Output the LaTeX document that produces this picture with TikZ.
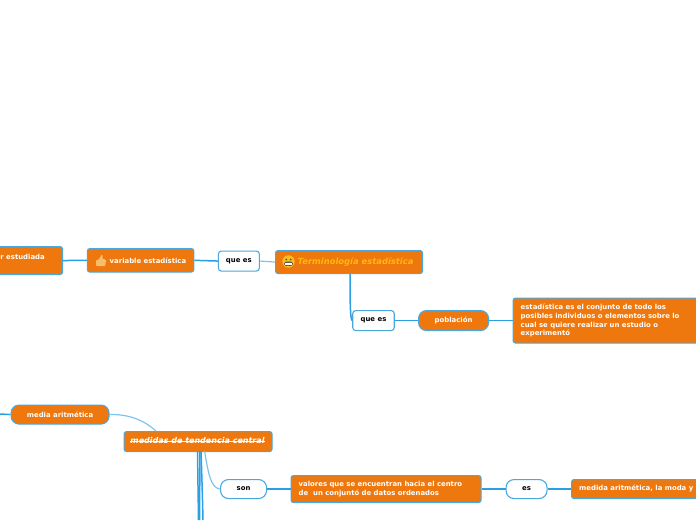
\documentclass[tikz,border=0pt]{standalone}
\usepackage{fontspec}
\setmainfont{DejaVu Sans}
\definecolor{nodeorange}{HTML}{EE780D}
\definecolor{linkblue}{HTML}{2A9FE4}
\definecolor{edgeblue}{HTML}{4AA8E0}
\definecolor{paleblue}{HTML}{7CC4F0}
\definecolor{thumbcol}{HTML}{F6BE6A}
\definecolor{facecol}{HTML}{F8BE1E}
\definecolor{titlecol}{HTML}{FFB70F}
\newsavebox{\strikebox}
\newcommand{\strikeout}[1]{\sbox{\strikebox}{#1}\usebox{\strikebox}\llap{\rule[0.28em]{\wd\strikebox}{0.55pt}}}
\tikzset{
  x=1pt,y=-1pt,
  base/.style={draw=edgeblue,line width=1.1pt,inner sep=0pt,font=\fontsize{6.9}{9}\selectfont\bfseries},
  obox/.style={base,fill=nodeorange,text=white,rounded corners=2.5pt},
  opill/.style={base,fill=nodeorange,text=white,rounded corners=8pt},
  wbox/.style={base,fill=white,text=black,rounded corners=3pt},
  wpill/.style={base,fill=white,text=black,rounded corners=8pt},
  link/.style={draw=linkblue,line width=1.5pt},
  thinlink/.style={draw=paleblue,line width=1.2pt},
  lab/.style={inner sep=0pt,align=left,font=\fontsize{6.9}{9}\selectfont\bfseries},
}
\begin{document}
\begin{tikzpicture}
\useasboundingbox (0,0) rectangle (696,520);
\clip (0,0) rectangle (696,520);
\coordinate (leftA) at (0,414);
\coordinate (downA) at (198.5,520);
\coordinate (downB) at (199.5,520);
\coordinate (downC) at (203,520);
\node[obox,minimum width=82pt,minimum height=28pt,anchor=north west] (sub) at (-20,246) {};
\node[obox,minimum width=106.5pt,minimum height=23.5pt,anchor=north west] (var) at (86.8,248) {};
\node[wbox,minimum width=41pt,minimum height=20pt,anchor=north west] (q1) at (217.8,250.5) {\raisebox{-0.7pt}{que es}};
\node[obox,minimum width=147pt,minimum height=23pt,anchor=north west] (term) at (275,250) {};
\node[wbox,minimum width=41.5pt,minimum height=20pt,anchor=north west] (q2) at (352.2,310) {\raisebox{-0.5pt}{que es}};
\node[opill,minimum width=70pt,minimum height=20pt,anchor=north west] (pob) at (418,310) {población};
\node[obox,minimum width=210pt,minimum height=45pt,anchor=north west] (est) at (512.5,297.5) {};
\node[opill,minimum width=98pt,minimum height=19pt,anchor=north west] (med) at (10.5,404.5) {media aritmética};
\node[obox,minimum width=148pt,minimum height=20pt,anchor=north west] (cen) at (123.5,431) {};
\node[wpill,minimum width=46pt,minimum height=19pt,anchor=north west] (son) at (220,479) {son};
\node[obox,minimum width=190pt,minimum height=27pt,anchor=north west] (val) at (290.5,475) {};
\node[wpill,minimum width=41pt,minimum height=19pt,anchor=north west] (es) at (505.5,479) {es};
\node[obox,minimum width=160pt,minimum height=19pt,anchor=north west] (mod) at (571,479) {};
\path[link] (sub.east) -- (var.west);
\path[link] (var.east) -- (q1.west);
\path[thinlink] (q1.east) -- (term.west);
\path[link] (term.south) ++(1,0) .. controls (350,295) and (350,320) .. (q2.west);
\path[link] (q2.east) -- (pob.west);
\path[link] (pob.east) -- (est.west);
\path[link] (leftA) -- (med.west);
\path[thinlink] (med.east) .. controls (130,414) and (145,421) .. (156,431);
\path[link] (197.5,451) -- (downA);
\path[link] (200,451) -- (downB);
\path[link] (201,451) .. controls (202,480) and (202.5,500) .. (downC);
\path[thinlink] (204.5,451) .. controls (208,470) and (210,488) .. (son.west);
\path[link] (son.east) -- (val.west);
\path[link] (val.east) -- (es.west);
\path[link] (es.east) -- (mod.west);
\node[lab,text=white,anchor=east] (subl) at (45,256.5) {r estudiada};
\node[lab,text=white,anchor=west] (varl) at (109.5,260.5) {variable estadística};
\fill[thumbcol,rounded corners=0.8pt] (96,260) -- (98.2,260) -- (100.5,257) -- (101.2,254.5) -- (102.7,255) -- (102.5,259) -- (106,259.5) -- (105.3,266) -- (96,266) -- cycle;
\fill[facecol] (288.5,261.5) circle (6.2pt);
\fill[black!75] (286.2,259.5) circle (0.9pt) (290.8,259.5) circle (0.9pt);
\fill[black!65,rounded corners=1.5pt] (284.2,261.6) rectangle (292.8,265.8);
\fill[white] (285,262.8) rectangle (292,264.6);
\node[lab,anchor=west,text=titlecol,font=\fontsize{8.4}{10}\selectfont\bfseries\itshape] (terml) at (297.5,262) {Terminología estadística};
\node[lab,text=white,anchor=north west,font=\fontsize{6.9}{8.8}\selectfont\bfseries] (estl) at (520.5,303.7) {estadística es el conjunto de todo los\\posibles individuos o elementos sobre lo\\cual se quiere realizar un estudio o\\experimentó};
\node[lab,text=white,anchor=center,font=\fontsize{8}{10}\selectfont\bfseries\itshape] (cenl) at (197.5,441) {\strikeout{medidas de tendencia central}};
\node[lab,text=white,anchor=north west,font=\fontsize{6.9}{9}\selectfont\bfseries] (vall) at (298.5,480.7) {valores que se encuentran hacia el centro\\de\ \ un conjuntó de datos ordenados};
\node[lab,text=white,anchor=west] (modl) at (579,488.5) {medida aritmética, la moda y};
\end{tikzpicture}
\end{document}
